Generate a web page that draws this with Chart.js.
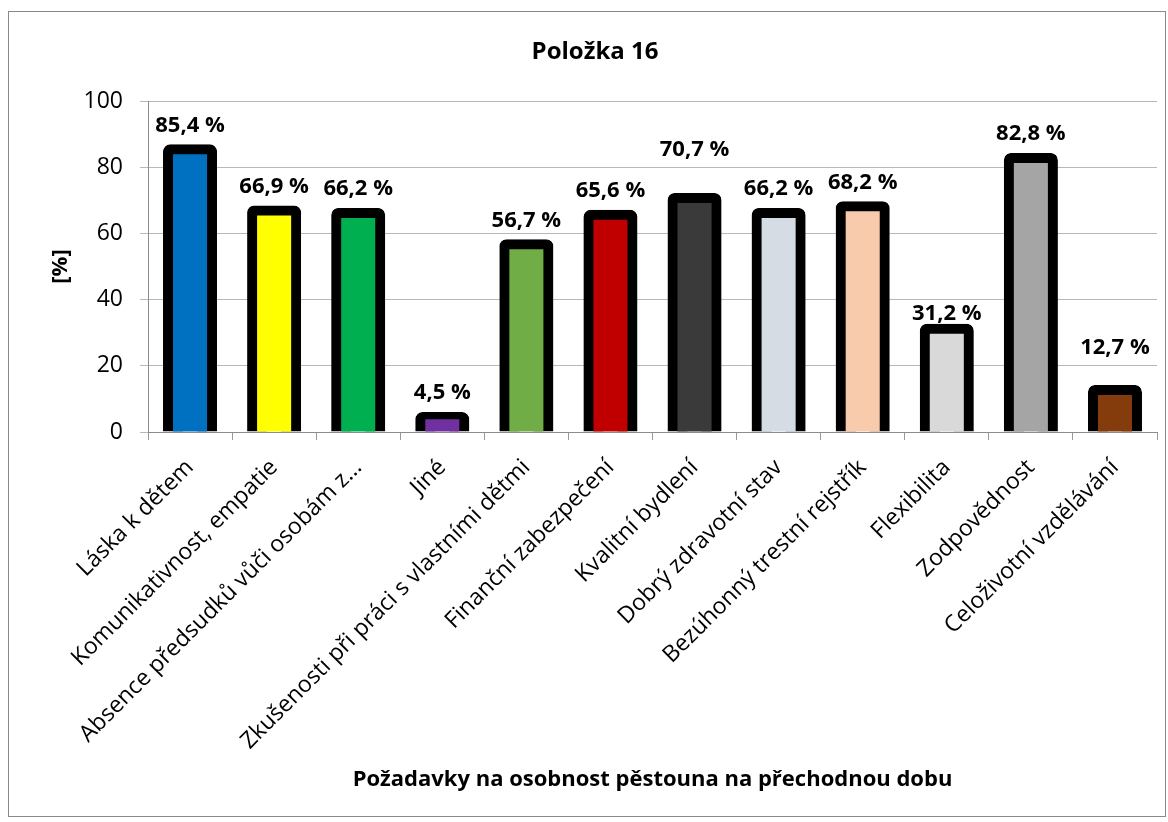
<!DOCTYPE html>
<html>
<head>
<meta charset="utf-8">
<script src="https://cdn.jsdelivr.net/npm/chart.js@4/dist/chart.umd.min.js"></script>
<style>
  html, body { margin: 0; padding: 0; background: #fff; }
  #wrap { width: 1168px; height: 822px; }
</style>
</head>
<body>
<div id="wrap"><canvas id="myChart" width="1168" height="822"></canvas></div>
<script>
const categories = [
  'Láska k dětem',
  'Komunikativnost, empatie',
  'Absence předsudků vůči osobám z...',
  'Jiné',
  'Zkušenosti při práci s vlastními dětmi',
  'Finanční zabezpečení',
  'Kvalitní bydlení',
  'Dobrý zdravotní stav',
  'Bezúhonný trestní rejstřík',
  'Flexibilita',
  'Zodpovědnost',
  'Celoživotní vzdělávání'
];
const values = [85.4, 66.9, 66.2, 4.5, 56.7, 65.6, 70.7, 66.2, 68.2, 31.2, 82.8, 12.7];
const yTicks = [0, 20, 40, 60, 80, 100];

const barColors = ['#0070C0', '#FFFF00', '#00B050', '#7030A0', '#70AD47', '#C00000',
                   '#3A3A3A', '#D6DCE4', '#F8CBAD', '#D9D9D9', '#A5A5A5', '#843C0C'];
// vertical lift of each value label above its bar top (px), as placed in the original
const labelLift = [24, 24, 24, 24, 24, 24, 48, 24, 24, 15, 24, 42];

const FONT = "'Open Sans', 'Noto Sans', sans-serif";

const frameAndLabels = {
  id: 'frameAndLabels',
  afterDraw(chart) {
    const ctx = chart.ctx;
    ctx.save();
    ctx.strokeStyle = '#898989';
    ctx.lineWidth = 1;
    ctx.strokeRect(8.5, 11.5, 1157, 805);

    const meta = chart.getDatasetMeta(0);
    ctx.fillStyle = '#000';
    ctx.font = 'bold 22px ' + FONT;
    ctx.textAlign = 'center';
    ctx.textBaseline = 'middle';
    meta.data.forEach((bar, i) => {
      const txt = values[i].toFixed(1).replace('.', ',') + ' %';
      ctx.fillText(txt, bar.x, bar.y - labelLift[i]);
    });
    ctx.restore();
  }
};

const ctx = document.getElementById('myChart').getContext('2d');
new Chart(ctx, {
  type: 'bar',
  data: {
    labels: categories,
    datasets: [{
      data: values,
      backgroundColor: barColors,
      borderColor: '#000',
      borderWidth: 10,
      borderRadius: 7,
      borderSkipped: 'start',
      inflateAmount: 5,
      clip: { left: 10, top: 10, right: 10, bottom: 0 },
      categoryPercentage: 1,
      barPercentage: 0.524
    }]
  },
  options: {
    responsive: false,
    animation: false,
    // left padding shifts the centred title to where it sits in the original
    layout: { padding: { top: 0, right: 11, bottom: 0, left: 33 } },
    plugins: {
      legend: { display: false },
      tooltip: { enabled: false },
      title: {
        display: true,
        text: 'Položka 16',
        color: '#000',
        font: { family: FONT, size: 24, weight: 'bold' },
        padding: { top: 37.6, bottom: 34.6 }
      }
    },
    scales: {
      x: {
        grid: {
          offset: true,
          drawOnChartArea: false,
          drawTicks: true,
          tickLength: 8,
          color: '#9a9a9a'
        },
        border: { color: '#8c8c8c' },
        ticks: {
          color: '#000',
          font: { family: FONT, size: 23 },
          minRotation: 45,
          maxRotation: 45,
          autoSkip: false,
          padding: 14
        },
        title: {
          display: true,
          text: 'Požadavky na osobnost pěstouna na přechodnou dobu',
          color: '#000',
          font: { family: FONT, size: 22, weight: 'bold' },
          padding: { top: 4, bottom: 29 }
        },
        afterFit(scale) { scale.height = 390; }
      },
      y: {
        min: 0,
        max: 100,
        afterBuildTicks(scale) { scale.ticks = yTicks.map(v => ({ value: v })); },
        grid: { color: '#b8b8b8', tickLength: 8 },
        border: { color: '#8c8c8c' },
        ticks: {
          color: '#000',
          font: { family: FONT, size: 23 },
          padding: 17
        },
        title: {
          display: true,
          text: '[%]',
          color: '#000',
          font: { family: FONT, size: 22, weight: 'bold' },
          padding: { top: 15, bottom: 0 }
        },
        afterFit(scale) { scale.width = 115; }
      }
    }
  },
  plugins: [frameAndLabels]
});
</script>
</body>
</html>
